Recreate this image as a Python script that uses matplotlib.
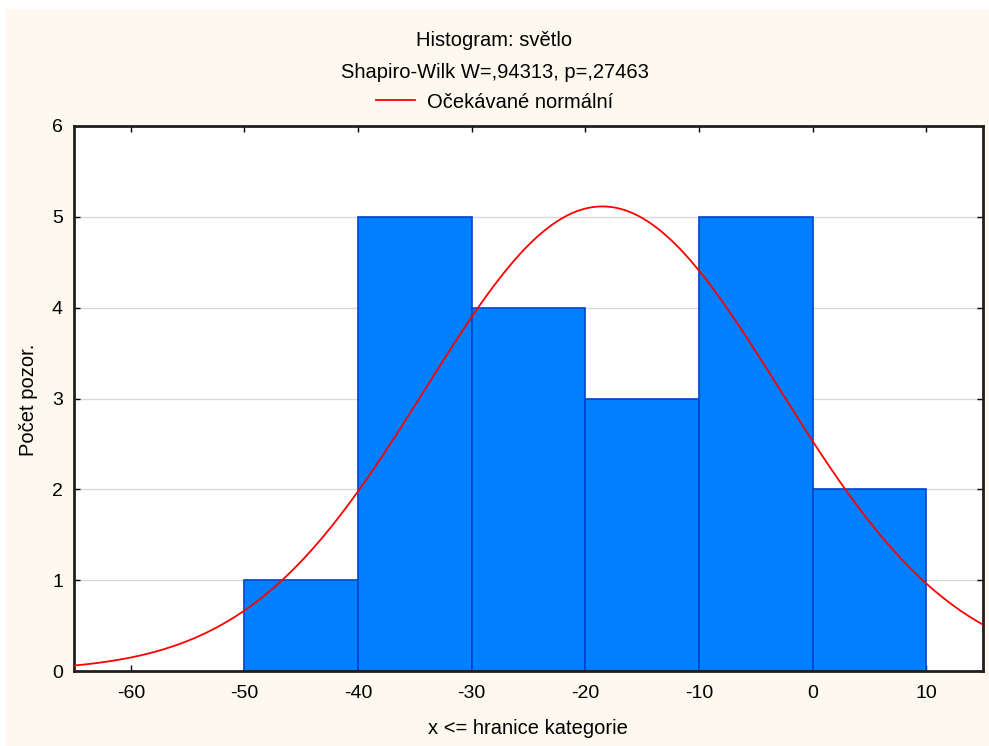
import matplotlib
matplotlib.use("Agg")
import matplotlib.pyplot as plt
import numpy as np
from matplotlib.patches import Rectangle

plt.rcParams["font.family"] = ["Liberation Sans", "DejaVu Sans"]
plt.rcParams["axes.unicode_minus"] = False

# histogram bins (upper bound of each class) and counts
bin_edges = [-50, -40, -30, -20, -10, 0, 10]
counts = [1, 5, 4, 3, 5, 2]
# expected normal curve parameters
curve_mean = -18.5
curve_sd = 15.6
n_obs = sum(counts)

x_ticks = [-60, -50, -40, -30, -20, -10, 0, 10]
y_ticks = [0, 1, 2, 3, 4, 5, 6]

W, H = 989, 746
fig = plt.figure(figsize=(W / 100, H / 100), dpi=100)
fig.patch.set_facecolor("white")
fig.patches.append(Rectangle((6 / W, -0.01), 1.1, 1.01 - 9 / H, transform=fig.transFigure,
                             facecolor="#fdf9ee", edgecolor="none", zorder=-10))

ax = fig.add_axes([74 / W, 75 / H, (983 - 74) / W, (671 - 126) / H])
ax.set_facecolor("white")

widths = np.diff(bin_edges)
ax.bar(bin_edges[:-1], counts, width=widths, align="edge",
       color="#007fff", edgecolor="#0044cc", linewidth=1.2, zorder=2)

xs = np.linspace(-65, 15, 400)
bw = widths[0]
ys = n_obs * bw / (curve_sd * np.sqrt(2 * np.pi)) * np.exp(-0.5 * ((xs - curve_mean) / curve_sd) ** 2)
line, = ax.plot(xs, ys, color="red", linewidth=1.3, zorder=3, label="Očekávané normální")

ax.set_xlim(-65, 15)
ax.set_ylim(0, 6)
ax.set_xticks(x_ticks)
ax.set_yticks(y_ticks)
for y in y_ticks[1:-1]:
    ax.axhline(y, color="#d9d9d9", linewidth=1, zorder=1)

ax.tick_params(direction="in", length=4, width=1, top=True, right=True,
               labelsize=14, colors="black")
ax.tick_params(axis="x", pad=10)
ax.tick_params(axis="y", pad=8)
for s in ax.spines.values():
    s.set_linewidth(2)
    s.set_color("#202020")

# axis titles placed in figure pixels to match the reference
fig.text(528 / W, 1 - 729 / H, "x <= hranice kategorie", ha="center", va="center", fontsize=14.5)
fig.text(29 / W, 1 - 400 / H, "Počet pozor.", ha="center", va="center", rotation=90, fontsize=14.5)

fig.text(0.5, 1 - 40 / H, "Histogram: světlo", ha="center", va="center", fontsize=14.5)
fig.text(0.5, 1 - 72 / H, "Shapiro-Wilk W=,94313, p=,27463", ha="center", va="center", fontsize=14.5)
fig.legend(handles=[line], loc="center", bbox_to_anchor=(0.5, 1 - 102 / H),
           frameon=False, fontsize=14.5, handlelength=1.9, handletextpad=0.6)

fig.savefig("out.png", dpi=100, facecolor=fig.get_facecolor())
